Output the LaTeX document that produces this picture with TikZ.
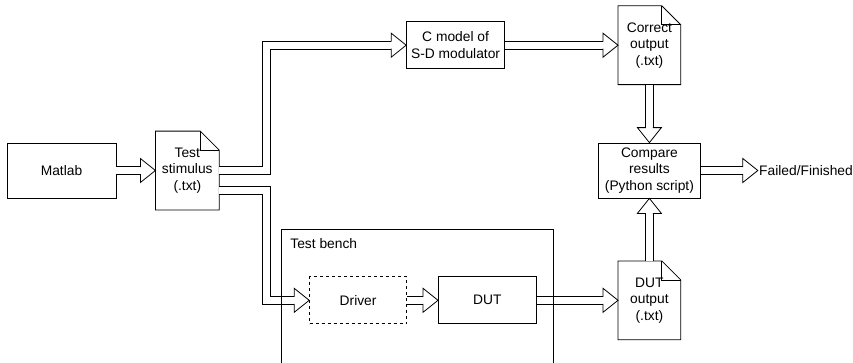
\documentclass[tikz,border=0pt]{standalone}
\usepackage{fontspec}
\setmainfont{Liberation Sans}
\usetikzlibrary{positioning}
\tikzset{
  box/.style={draw,align=center,inner sep=2pt},
  doc/.style={align=center,inner sep=0pt,minimum width=62pt,minimum height=78pt},
  pipe/.style={draw,double=white,double distance=7pt,line join=miter,shorten >=15pt},
  fathead/.pic={\draw[line join=miter] (-15,3.5) -- (-15,12) -- (0,0) -- (-15,-12) -- (-15,-3.5);},
}

\begin{document}
\begin{tikzpicture}[x=1pt,y=1pt,line width=0.8pt,font=\fontsize{13.8}{16.5}\selectfont]
\useasboundingbox (0,0) rectangle (853,-362);
\clip (0,0) rectangle (853,-362);

\node[box,minimum width=109pt,minimum height=55pt] (matlab) at (61.5,-170.5) {Matlab};
\node[doc,minimum width=63pt,right=39pt of matlab] (stim) {Test\\stimulus\\(.txt)};
\node[box,minimum width=98pt,minimum height=47pt,above right=62pt and 187pt of stim] (cmodel) {C model of\\S-D modulator};
\node[doc,right=113pt of cmodel] (good) {Correct\\output\\(.txt)};
\node[box,minimum width=102pt,minimum height=55pt,below=58pt of good] (compare) {Compare\\results\\(Python script)};
\node[right=57pt of compare,inner sep=1pt] (failed) {Failed/Finished};
\node[doc,below=62.5pt of compare] (dutout) {DUT\\output\\(.txt)};
\node[box,dashed,minimum width=97pt,minimum height=47pt,below right=66.5pt and 90pt of stim] (driver) {Driver};
\node[box,minimum width=98pt,minimum height=47pt,right=31pt of driver] (dut) {DUT};

% text files: page with a folded corner
\foreach \d in {stim,good,dutout}{
  \draw (\d.north west) -- ([xshift=-19pt]\d.north east) -- ([yshift=-19pt]\d.north east)
    -- (\d.south east) -- (\d.south west) -- cycle;
  \draw ([xshift=-19pt]\d.north east) |- ([yshift=-19pt]\d.north east);
}

% data flow
\draw[pipe] (matlab) -- (stim);
\pic at (stim.west) {fathead};
\draw[pipe] (stim.east) -- ++(47,0) |- (cmodel.west);
\pic at (cmodel.west) {fathead};
\draw[pipe] ([yshift=-20pt]stim.east) -- ++(47,0) |- (driver.west);
\pic at (driver.west) {fathead};
\draw[pipe] (cmodel) -- (good);
\pic at (good.west) {fathead};
\draw[pipe] (good) -- (compare);
\pic[rotate=-90] at (compare.north) {fathead};
\draw[pipe] (dutout) -- (compare);
\pic[rotate=90] at (compare.south) {fathead};
\draw[pipe] (compare) -- (failed);
\pic at (failed.west) {fathead};
\draw[pipe] (driver) -- (dut);
\pic at (dut.west) {fathead};
\draw[pipe] (dut) -- (dutout);
\pic at (dutout.west) {fathead};

% test bench frame, open at the bottom of the page
\node[draw,anchor=north west,minimum width=272pt,minimum height=160pt] (bench) at (281,-229) {};
\node[anchor=north west,inner sep=0pt] (benchname) at ([shift={(9pt,-9pt)}]bench.north west) {Test bench};
\end{tikzpicture}
\end{document}
